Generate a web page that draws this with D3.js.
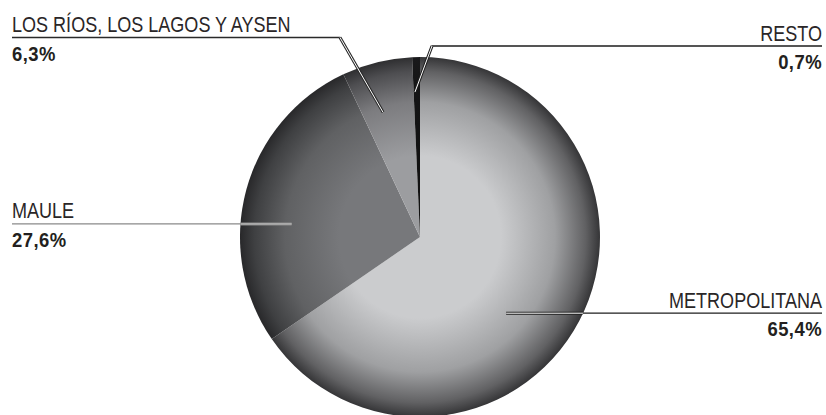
<!DOCTYPE html>
<html>
<head>
<meta charset="utf-8">
<script src="https://cdn.jsdelivr.net/npm/d3@7"></script>
<style>
  body { margin: 0; background: #fff; }
  text { font-family: "Liberation Sans", Arial, sans-serif; }
</style>
</head>
<body>
<div id="chart"></div>
<script>
// share of total by region (%)
var regions = ['METROPOLITANA', 'MAULE', 'LOS RÍOS, LOS LAGOS Y AYSEN', 'RESTO'];
var shares = [65.4, 27.6, 6.3, 0.7];
var share_labels = ['65,4%', '27,6%', '6,3%', '0,7%'];
var base_colors = ['#cbccce', '#77787b', '#9c9da0', '#121212'];

// label placement: point inside slice (deg from top, px from centre), optional elbow, text x
var label_layout = [
  { angle: 131.5, r: 115, elbow: null, tx: 822, anchor: 'end', line: '#1e1e1e' },
  { angle: 275.8, r: 129, elbow: null, tx: 12, anchor: 'start', line: '#8a8a8a' },
  { angle: 343.5, r: 130, elbow: [340, 37.5], tx: 12, anchor: 'start', line: '#2a2a2a' },
  { angle: 358, r: 145, elbow: [432, 46], tx: 822, anchor: 'end', line: '#1e1e1e' }
];

var width = 826, height = 415;
var cx = 420, cy = 237, radius = 180;

var svg = d3.select('#chart')
  .append('svg')
    .attr('width', width)
    .attr('height', height);

var defs = svg.append('defs');

defs.append('clipPath')
    .attr('id', 'pieclip')
  .append('circle')
    .attr('cx', cx)
    .attr('cy', cy)
    .attr('r', radius);

// radial shading, flat in middle and dark at rim
base_colors.forEach(function(c, i) {
  var g = defs.append('radialGradient')
      .attr('id', 'grad' + i)
      .attr('gradientUnits', 'userSpaceOnUse')
      .attr('cx', 0).attr('cy', 0).attr('r', radius);
  var dark = d3.interpolateRgb(c, '#1a1a1c');
  g.append('stop').attr('offset', '0%').attr('stop-color', c);
  g.append('stop').attr('offset', '45%').attr('stop-color', c);
  g.append('stop').attr('offset', '75%').attr('stop-color', dark(0.25));
  g.append('stop').attr('offset', '92%').attr('stop-color', dark(0.6));
  g.append('stop').attr('offset', '100%').attr('stop-color', dark(0.85));
});

var pie = d3.pie().sort(null).value(function(d) { return d; });
var arc = d3.arc().innerRadius(0).outerRadius(radius);

var pieG = svg.append('g')
    .attr('transform', 'translate(' + cx + ',' + cy + ')');

pieG.selectAll('path')
  .data(pie(shares))
  .enter().append('path')
    .attr('d', arc)
    .attr('fill', function(d, i) { return 'url(#grad' + i + ')'; })
    .attr('stroke', 'none');

// leaders and labels
var line = d3.line();
label_layout.forEach(function(l, i) {
  var a = l.angle * Math.PI / 180;
  var px = cx + l.r * Math.sin(a), py = cy - l.r * Math.cos(a);
  var ly = l.elbow ? l.elbow[1] : py;
  var pts = l.elbow ? [[l.tx, ly], l.elbow, [px, py]] : [[l.tx, ly], [px, py]];

  svg.append('path')
    .attr('d', line(pts))
    .attr('fill', 'none')
    .attr('stroke', l.line)
    .attr('stroke-width', 1.3);

  // doubled stroke where the leader crosses into the pie
  var inner = l.elbow ? [l.elbow, [px, py]] : [[l.tx, ly], [px, py]];
  var dg = svg.append('g');
  if (!l.elbow) dg.attr('clip-path', 'url(#pieclip)');
  dg.append('path')
    .attr('d', line(inner))
    .attr('fill', 'none')
    .attr('stroke', l.line)
    .attr('stroke-width', 3);
  dg.append('path')
    .attr('d', line(inner))
    .attr('fill', 'none')
    .attr('stroke', i == 1 ? '#c4c4c4' : '#ffffff')
    .attr('stroke-width', 1);

  // condensed look: squeeze the regular face horizontally
  svg.append('text')
    .attr('transform', 'translate(' + l.tx + ',' + (ly - 5.5) + ') scale(0.82,1)')
    .attr('text-anchor', l.anchor)
    .attr('fill', '#2a2627')
    .style('font-size', '22px')
    .text(regions[i]);

  svg.append('text')
    .attr('transform', 'translate(' + l.tx + ',' + (ly + 23) + ') scale(0.9,1)')
    .attr('text-anchor', l.anchor)
    .attr('fill', '#231f20')
    .style('font-size', '20.5px')
    .style('font-weight', 'bold')
    .style('letter-spacing', '0.5px')
    .text(share_labels[i]);
});
</script>
</body>
</html>
